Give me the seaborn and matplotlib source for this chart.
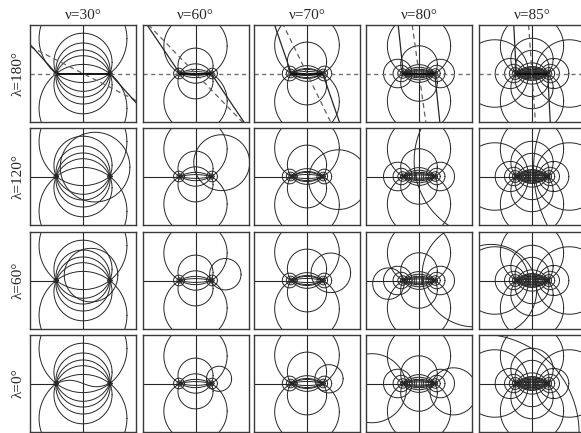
import numpy as np
import pandas as pd
import matplotlib
matplotlib.use('Agg')
import matplotlib.pyplot as plt
import seaborn as sns

sns.set_theme(style='white')
plt.rcParams['font.family'] = ['Liberation Serif', 'DejaVu Serif']

nu_labels = ['ν=30°', 'ν=60°', 'ν=70°', 'ν=80°', 'ν=85°']
lam_labels = ['λ=180°', 'λ=120°', 'λ=60°', 'λ=0°']

# pixels per unit (focus at ±1) for each column
col_scale = [26.8, 15.7, 15.7, 15.7, 15.7]
# full circles through the two foci (±1, 0): centre (0, c)
pencil_c = [
    [0.13, 0.42, 1.3, -0.13, -0.42, -1.3],
    [1.75, -1.75, 0.5, -0.5],
    [1.8, -1.8, 0.75, -0.75],
    [1.75, -1.75, 0.6, -0.6],
    [1.75, -1.75, 0.9, -0.9, 0.4, -0.4],
]
# heights of the short lens arcs between the foci
lens_arc_h = [[], [0.12], [0.13, 0.32], [0.1, 0.18, 0.4], [0.08, 0.16, 0.36]]
# circles around each focus: centre (±coth u, 0), radius 1/sinh u
apoll_u = [
    [3.2, 3.8, 4.5],
    [1.8, 2.5, 3.2, 4.0],
    [1.5, 2.0, 2.6, 3.3, 4.0],
    [0.95, 1.4, 1.9, 2.5, 3.2, 4.0],
    [0.45, 0.91, 1.3, 1.7, 2.2, 2.8, 3.5, 4.2],
]
# short Apollonian arcs drawn only inside the lens between the foci
lens_u = [[], [], [], [0.35, 0.6], [0.2, 0.35, 0.55, 0.75]]
lens_h = [0, 0, 0, 0.3, 0.38]
# row λ=180: angle from vertical of dashed line and of solid branches (deg)
dash_ang = [63, 44, 26, 8, 4]
solid_ang = [42, 34, 19, 6, 3]
# extra circles (cx, cy, r) for rows λ=120, 60, 0
extra = {
    (1, 0): [(0.45, 0.35, 1.3)],
    (1, 1): [(1.67, 0.88, 1.78)],
    (1, 2): [(2.0, -0.2, 1.9)],
    (1, 3): [(4.65, 1.0, 4.96)],
    (1, 4): [(8.0, 0.5, 7.9)],
    (2, 0): [(0.3, 0.2, 1.0)],
    (2, 1): [(1.9, 0.4, 1.0)],
    (2, 2): [(1.52, 0.49, 1.26)],
    (2, 3): [(3.5, 0.35, 3.3), (-1.95, -0.2, 1.0)],
    (2, 4): [(-2.6, -0.6, 2.9)],
    (3, 0): [],
    (3, 1): [(1.5, 0.3, 0.8)],
    (3, 2): [(1.4, 0.3, 0.9)],
    (3, 3): [(2.2, -0.5, 1.5), (-3.0, -0.3, 2.2)],
    (3, 4): [(-3.3, -3.15, 6.3)],
}
# wavy curve between the foci for λ=0, ν=30
wave_amp = 0.12

W, H = 581, 433
col_left = [30, 142.5, 254, 366, 479]
row_top = [25, 128, 232, 335]
pw, ph = 106, 97

fig = plt.figure(figsize=(W / 100, H / 100), dpi=100)
t = np.linspace(0, 2 * np.pi, 500)
lc = '#262626'
lw = 0.7


def circ(cx, cy, r, cid):
    return pd.DataFrame({'x': cx + r * np.cos(t), 'y': cy + r * np.sin(t), 'id': cid})


for i in range(4):
    for j in range(5):
        sc = col_scale[j]
        XL, YL = pw / 2 / sc, ph / 2 / sc
        ax = fig.add_axes([col_left[j] / W, 1 - (row_top[i] + ph) / H, pw / W, ph / H])
        parts = []
        cid = 0
        for c in pencil_c[j]:
            parts.append(circ(0, c, np.sqrt(1 + c * c), cid)); cid += 1
        for h in lens_arc_h[j]:
            c = (1 - h * h) / (2 * h)
            r = np.sqrt(1 + c * c)
            xx = np.linspace(-1, 1, 80)
            for sgn in (-1, 1):
                yy = sgn * (np.sqrt(r * r - xx * xx) - c)
                parts.append(pd.DataFrame({'x': xx, 'y': yy, 'id': cid})); cid += 1
        for u in apoll_u[j]:
            for sgn in (-1, 1):
                parts.append(circ(sgn / np.tanh(u), 0, 1 / np.sinh(u), cid)); cid += 1
        for u in lens_u[j]:
            for sgn in (-1, 1):
                cx, r = sgn / np.tanh(u), 1 / np.sinh(u)
                yy = np.linspace(-lens_h[j], lens_h[j], 40)
                xx = cx - sgn * np.sqrt(r * r - yy * yy)
                parts.append(pd.DataFrame({'x': xx, 'y': yy, 'id': cid})); cid += 1
        if i > 0:
            for (cx, cy, r) in extra.get((i, j), []):
                parts.append(circ(cx, cy, r, cid)); cid += 1
        if i == 3 and j == 0:
            xx = np.linspace(-1, 1, 80)
            parts.append(pd.DataFrame({'x': xx, 'y': wave_amp * np.sin(np.pi * (xx + 1)), 'id': cid}))
            cid += 1
        df = pd.concat(parts, ignore_index=True)
        sns.lineplot(data=df, x='x', y='y', units='id', estimator=None, sort=False,
                     color=lc, lw=lw, ax=ax, legend=False)
        ax.plot([0, 0], [-YL, YL], color=lc, lw=0.8)
        if i == 0:
            ax.plot([-1, 1], [0, 0], color='#111111', lw=1.4)
            ax.plot([-XL, -1], [0, 0], color='#707070', lw=1.0, ls=(0, (3, 2.5)))
            ax.plot([1, XL], [0, 0], color='#707070', lw=1.0, ls=(0, (3, 2.5)))
            a = np.radians(dash_ang[j])
            L = 6
            ax.plot([-L * np.sin(a), L * np.sin(a)], [L * np.cos(a), -L * np.cos(a)],
                    color='#606060', lw=0.9, ls=(0, (4, 3)))
            b = np.radians(solid_ang[j])
            ax.plot([-1, -1 - L * np.sin(b)], [0, L * np.cos(b)], color=lc, lw=0.9)
            ax.plot([1, 1 + L * np.sin(b)], [0, -L * np.cos(b)], color=lc, lw=0.9)
        else:
            ax.plot([-XL, -1], [0, 0], color=lc, lw=0.8)
        ax.set_xlim(-XL, XL)
        ax.set_ylim(-YL, YL)
        ax.set_xticks([]); ax.set_yticks([])
        ax.set_xlabel(''); ax.set_ylabel('')
        for sp in ax.spines.values():
            sp.set_visible(True)
            sp.set_color('#3a3a3a')
            sp.set_linewidth(1.0)
        if i == 0:
            ax.set_title(nu_labels[j], fontsize=11, pad=4)
        if j == 0:
            ax.set_ylabel(lam_labels[i], fontsize=11, labelpad=4)

fig.savefig('out.png', dpi=100)
